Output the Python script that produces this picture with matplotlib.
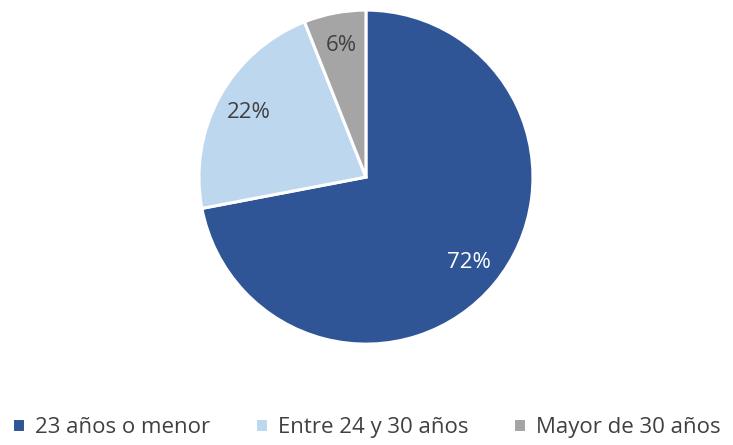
import matplotlib.pyplot as plt

labels = ["23 años o menor", "Entre 24 y 30 años", "Mayor de 30 años"]
values = [72, 22, 6]
colors = ["#2F5597", "#BDD7EE", "#A5A5A5"]
text_colors = ["white", "#404040", "#404040"]

plt.rcParams['font.family'] = ['Open Sans', 'DejaVu Sans']

fig = plt.figure(figsize=(7.33, 4.45), dpi=100)
ax = fig.add_axes([0.4993 - 0.2279, 0.602 - 0.3753, 0.4557, 0.7506])

wedges, texts, autotexts = ax.pie(
    values, colors=colors, startangle=90, counterclock=False,
    autopct='%1.0f%%', pctdistance=0.8,
    wedgeprops=dict(edgecolor='white', linewidth=2.2),
    textprops=dict(fontsize=16))
for t, c in zip(autotexts, text_colors):
    t.set_color(c)
ax.set_xlim(-1.0, 1.0)
ax.set_ylim(-1.0, 1.0)
ax.set_aspect('equal')

fig.legend(wedges, labels, loc='center', bbox_to_anchor=(0.5, 0.04), ncol=3,
           frameon=False, fontsize=16, handlelength=0.6, handleheight=0.6,
           handletextpad=0.45, columnspacing=2.0, labelcolor='#404040')

fig.savefig("out.png", dpi=100)
